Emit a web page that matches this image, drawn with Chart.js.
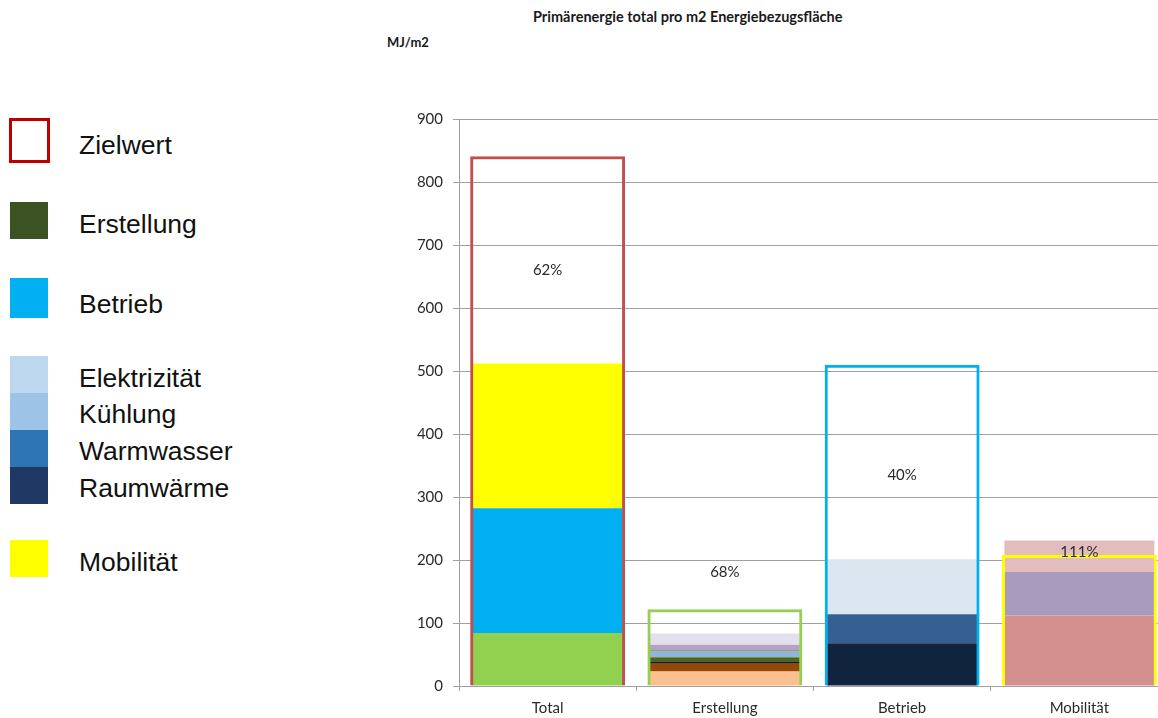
<!DOCTYPE html>
<html>
<head>
<meta charset="utf-8">
<script src="https://cdn.jsdelivr.net/npm/chart.js@4"></script>
<style>
  html, body { margin: 0; padding: 0; overflow: hidden; background: #fff; }
  body { width: 1158px; height: 718px; position: relative; font-family: "Liberation Sans", Arial, sans-serif; }
  .title { position: absolute; left: 533px; top: 8px; font: bold 14.5px Lato, sans-serif; color: #1a1a1a; white-space: nowrap; }
  .unit { position: absolute; left: 387px; top: 34px; font: bold 13px Lato, sans-serif; color: #1a1a1a; }
  .box { position: absolute; left: 10px; width: 38px; height: 37px; }
  .txt { position: absolute; left: 79px; font-size: 26.5px; color: #111; line-height: 30px; white-space: nowrap; }
  #wrap { position: absolute; left: 380px; top: 100px; width: 790px; height: 618px; }
</style>
</head>
<body>
<div class="title">Primärenergie total pro m2 Energiebezugsfläche</div>
<div class="unit">MJ/m2</div>

<div class="box" style="top:118px;height:39px;width:35px;border:3px solid #C00000;left:9px"></div>
<div class="txt" style="top:130px">Zielwert</div>
<div class="box" style="top:202px;background:#3B5323"></div>
<div class="txt" style="top:209px">Erstellung</div>
<div class="box" style="top:278px;height:40px;background:#00B0F0"></div>
<div class="txt" style="top:289px">Betrieb</div>
<div class="box" style="top:356px;background:#BDD7EE"></div>
<div class="box" style="top:393px;background:#9DC3E6"></div>
<div class="box" style="top:430px;background:#2E75B6"></div>
<div class="box" style="top:467px;background:#203864"></div>
<div class="txt" style="top:363px">Elektrizität</div>
<div class="txt" style="top:399px">Kühlung</div>
<div class="txt" style="top:436px">Warmwasser</div>
<div class="txt" style="top:473px">Raumwärme</div>
<div class="box" style="top:540px;background:#FFFF00"></div>
<div class="txt" style="top:547px">Mobilität</div>

<div id="wrap"><canvas id="chart" width="790" height="618"></canvas></div>

<script>
const categories = ["Total", "Erstellung", "Betrieb", "Mobilität"];
const zielwert = [841, 122, 510, 208];
const anteilLabels = ["62%", "68%", "40%", "111%"];
const anteilLabelAt = [660, 180, 335, 213];

// Total: Erstellung, Betrieb, Mobilität
const totalTeile = [84, 198, 230];
// Erstellung: Bauteile von unten nach oben
const erstellungTeile = [23, 12.5, 2.5, 6.5, 1.5, 8.5, 2.5, 8.5, 18];
// Betrieb: Raumwärme, Warmwasser, Kühlung, Elektrizität
const betriebTeile = [68, 46, 0, 87];
// Mobilität: Teile von unten nach oben
const mobilitaetTeile = [112, 69, 50];

const zielColors = ["#C0504D", "#92D050", "#00B0F0", "#FFFF00"];
const totalColors = ["#92D050", "#00B0F0", "#FFFF00"];
const erstellungColors = ["#FAC090", "#974706", "#1C1C1C", "#4F6228", "#77933C", "#8DB4E2", "#93A07A", "#B3A2C7", "#E4DFEC"];
const betriebColors = ["#10243E", "#366092", "#95B3D7", "#DCE6F1"];
const mobilitaetColors = ["#D4908F", "#A99BBD", "#E3BDBD"];

function teil(catIndex, value, color, label) {
  const data = categories.map((_, i) => (i === catIndex ? value : null));
  return {
    label,
    data,
    backgroundColor: color,
    borderWidth: 0,
    stack: "teile",
    grouped: false,
    barPercentage: 0.846,
    categoryPercentage: 1,
  };
}

const datasets = [
  {
    label: "Zielwert",
    data: zielwert,
    backgroundColor: "rgba(0,0,0,0)",
    borderColor: zielColors,
    borderWidth: 3,
    stack: "ziel",
    grouped: false,
    barPercentage: 0.874,
    categoryPercentage: 1,
  },
];
totalTeile.forEach((v, i) => datasets.push(teil(0, v, totalColors[i], "Total " + i)));
erstellungTeile.forEach((v, i) => datasets.push(teil(1, v, erstellungColors[i], "Erstellung " + i)));
betriebTeile.forEach((v, i) => datasets.push(teil(2, v, betriebColors[i], "Betrieb " + i)));
mobilitaetTeile.forEach((v, i) => datasets.push(teil(3, v, mobilitaetColors[i], "Mobilität " + i)));

const anteilPlugin = {
  id: "anteil",
  afterDatasetsDraw(chart) {
    const { ctx, scales } = chart;
    ctx.save();
    ctx.font = "15px Lato, sans-serif";
    ctx.fillStyle = "#2a2a2a";
    ctx.textAlign = "center";
    ctx.textBaseline = "middle";
    anteilLabels.forEach((text, i) => {
      ctx.fillText(text, scales.x.getPixelForValue(i), scales.y.getPixelForValue(anteilLabelAt[i]));
    });
    ctx.restore();
  },
};

new Chart(document.getElementById("chart").getContext("2d"), {
  type: "bar",
  data: { labels: categories, datasets },
  plugins: [anteilPlugin],
  options: {
    responsive: false,
    animation: false,
    layout: { padding: { top: 19, right: 2, bottom: 0, left: 0 } },
    plugins: { legend: { display: false }, tooltip: { enabled: false } },
    scales: {
      x: {
        afterFit(scale) { scale.height = 32; },
        grid: { drawOnChartArea: false, offset: true, tickLength: 5, color: "#A0A0A0" },
        border: { color: "#A0A0A0" },
        ticks: { font: { family: "Lato", size: 15 }, color: "#2a2a2a", padding: 8 },
      },
      y: {
        stacked: true,
        min: 0,
        max: 900,
        afterFit(scale) { scale.width = 79; },
        grid: { color: "#A0A0A0", tickLength: 6 },
        border: { color: "#A0A0A0" },
        ticks: { stepSize: 100, font: { family: "Lato", size: 15 }, color: "#2a2a2a", padding: 10 },
      },
    },
  },
});
</script>
</body>
</html>
